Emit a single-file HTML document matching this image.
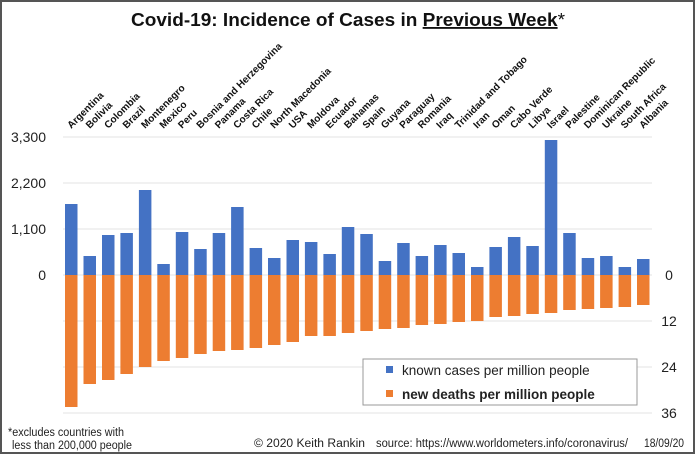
<!DOCTYPE html>
<html><head><meta charset="utf-8"><style>
html,body{margin:0;padding:0;background:#fff}
svg{display:block;font-family:"Liberation Sans",Arial,sans-serif}
</style></head><body>
<svg width="696" height="455" viewBox="0 0 696 455" xmlns="http://www.w3.org/2000/svg">
<rect x="1" y="1" width="693" height="452" fill="#fff" stroke="#555" stroke-width="2"/>
<text x="131" y="26" font-size="18.5" font-weight="bold" fill="#111" textLength="434" lengthAdjust="spacingAndGlyphs">Covid-19: Incidence of Cases in <tspan text-decoration="underline">Previous Week</tspan><tspan font-weight="normal">*</tspan></text>
<g stroke="#e3e3e3" stroke-width="1">
<line x1="63" y1="137" x2="652" y2="137"/><line x1="63" y1="183" x2="652" y2="183"/>
<line x1="63" y1="229" x2="652" y2="229"/><line x1="63" y1="275" x2="652" y2="275"/>
<line x1="63" y1="321" x2="652" y2="321"/><line x1="63" y1="367" x2="652" y2="367"/>
<line x1="63" y1="413" x2="652" y2="413"/>
</g>
<g font-size="14" fill="#222" text-anchor="end">
<text x="46" y="142">3,300</text><text x="46" y="188">2,200</text><text x="46" y="234">1,100</text><text x="46" y="280">0</text>
</g>
<g font-size="14" fill="#222" text-anchor="middle">
<text x="669" y="280">0</text><text x="669" y="326">12</text><text x="669" y="372">24</text><text x="669" y="418">36</text>
</g>
<g fill="#4472C4">
<rect x="65" y="204" width="12.5" height="71"/><rect x="83.5" y="256" width="12.5" height="19"/>
<rect x="102" y="235" width="12.5" height="40"/><rect x="120.4" y="233" width="12.5" height="42"/>
<rect x="138.9" y="190" width="12.5" height="85"/><rect x="157.3" y="264" width="12.5" height="11"/>
<rect x="175.8" y="232" width="12.5" height="43"/><rect x="194.2" y="249" width="12.5" height="26"/>
<rect x="212.7" y="233" width="12.5" height="42"/><rect x="231.1" y="207" width="12.5" height="68"/>
<rect x="249.6" y="248" width="12.5" height="27"/><rect x="268" y="258" width="12.5" height="17"/>
<rect x="286.5" y="240" width="12.5" height="35"/><rect x="304.9" y="242" width="12.5" height="33"/>
<rect x="323.4" y="254" width="12.5" height="21"/><rect x="341.8" y="227" width="12.5" height="48"/>
<rect x="360.3" y="234" width="12.5" height="41"/><rect x="378.7" y="261" width="12.5" height="14"/>
<rect x="397.2" y="243" width="12.5" height="32"/><rect x="415.6" y="256" width="12.5" height="19"/>
<rect x="434.1" y="245" width="12.5" height="30"/><rect x="452.5" y="253" width="12.5" height="22"/>
<rect x="471" y="267" width="12.5" height="8"/><rect x="489.4" y="247" width="12.5" height="28"/>
<rect x="507.9" y="237" width="12.5" height="38"/><rect x="526.3" y="246" width="12.5" height="29"/>
<rect x="544.8" y="140" width="12.5" height="135"/><rect x="563.2" y="233" width="12.5" height="42"/>
<rect x="581.7" y="258" width="12.5" height="17"/><rect x="600.1" y="256" width="12.5" height="19"/>
<rect x="618.6" y="267" width="12.5" height="8"/><rect x="637" y="259" width="12.5" height="16"/>
</g>
<g fill="#ED7D31">
<rect x="65" y="275" width="12.5" height="132"/><rect x="83.5" y="275" width="12.5" height="109"/>
<rect x="102" y="275" width="12.5" height="105"/><rect x="120.4" y="275" width="12.5" height="99"/>
<rect x="138.9" y="275" width="12.5" height="92"/><rect x="157.3" y="275" width="12.5" height="86"/>
<rect x="175.8" y="275" width="12.5" height="83"/><rect x="194.2" y="275" width="12.5" height="79"/>
<rect x="212.7" y="275" width="12.5" height="76"/><rect x="231.1" y="275" width="12.5" height="75"/>
<rect x="249.6" y="275" width="12.5" height="73"/><rect x="268" y="275" width="12.5" height="70"/>
<rect x="286.5" y="275" width="12.5" height="67"/><rect x="304.9" y="275" width="12.5" height="61"/>
<rect x="323.4" y="275" width="12.5" height="61"/><rect x="341.8" y="275" width="12.5" height="58"/>
<rect x="360.3" y="275" width="12.5" height="56"/><rect x="378.7" y="275" width="12.5" height="54"/>
<rect x="397.2" y="275" width="12.5" height="53"/><rect x="415.6" y="275" width="12.5" height="50"/>
<rect x="434.1" y="275" width="12.5" height="49"/><rect x="452.5" y="275" width="12.5" height="47"/>
<rect x="471" y="275" width="12.5" height="46"/><rect x="489.4" y="275" width="12.5" height="42"/>
<rect x="507.9" y="275" width="12.5" height="41"/><rect x="526.3" y="275" width="12.5" height="39"/>
<rect x="544.8" y="275" width="12.5" height="38"/><rect x="563.2" y="275" width="12.5" height="35"/>
<rect x="581.7" y="275" width="12.5" height="34"/><rect x="600.1" y="275" width="12.5" height="33"/>
<rect x="618.6" y="275" width="12.5" height="32"/><rect x="637" y="275" width="12.5" height="30"/>
</g>
<g font-size="10" font-weight="bold" fill="#111">
<text transform="translate(71.3,129) rotate(-45)">Argentina</text>
<text transform="translate(89.7,129) rotate(-45)">Bolivia</text>
<text transform="translate(108.2,129) rotate(-45)">Colombia</text>
<text transform="translate(126.6,129) rotate(-45)">Brazil</text>
<text transform="translate(145.1,129) rotate(-45)">Montenegro</text>
<text transform="translate(163.5,129) rotate(-45)">Mexico</text>
<text transform="translate(182,129) rotate(-45)">Peru</text>
<text transform="translate(200.4,129) rotate(-45)">Bosnia and Herzegovina</text>
<text transform="translate(218.9,129) rotate(-45)">Panama</text>
<text transform="translate(237.3,129) rotate(-45)">Costa Rica</text>
<text transform="translate(255.8,129) rotate(-45)">Chile</text>
<text transform="translate(274.2,129) rotate(-45)">North Macedonia</text>
<text transform="translate(292.7,129) rotate(-45)">USA</text>
<text transform="translate(311.1,129) rotate(-45)">Moldova</text>
<text transform="translate(329.6,129) rotate(-45)">Ecuador</text>
<text transform="translate(348,129) rotate(-45)">Bahamas</text>
<text transform="translate(366.5,129) rotate(-45)">Spain</text>
<text transform="translate(384.9,129) rotate(-45)">Guyana</text>
<text transform="translate(403.4,129) rotate(-45)">Paraguay</text>
<text transform="translate(421.8,129) rotate(-45)">Romania</text>
<text transform="translate(440.3,129) rotate(-45)">Iraq</text>
<text transform="translate(458.7,129) rotate(-45)">Trinidad and Tobago</text>
<text transform="translate(477.2,129) rotate(-45)">Iran</text>
<text transform="translate(495.6,129) rotate(-45)">Oman</text>
<text transform="translate(514.1,129) rotate(-45)">Cabo Verde</text>
<text transform="translate(532.5,129) rotate(-45)">Libya</text>
<text transform="translate(551,129) rotate(-45)">Israel</text>
<text transform="translate(569.4,129) rotate(-45)">Palestine</text>
<text transform="translate(587.9,129) rotate(-45)">Dominican Republic</text>
<text transform="translate(606.3,129) rotate(-45)">Ukraine</text>
<text transform="translate(624.8,129) rotate(-45)">South Africa</text>
<text transform="translate(643.2,129) rotate(-45)">Albania</text>
</g>
<rect x="363" y="359" width="274" height="46" fill="#fff" stroke="#999" stroke-width="1"/>
<rect x="386" y="366" width="7" height="7" fill="#4472C4"/>
<text x="402" y="375" font-size="13.5" fill="#222">known cases per million people</text>
<rect x="386" y="390" width="7" height="7" fill="#ED7D31"/>
<text x="402" y="399" font-size="13.5" font-weight="bold" fill="#222">new deaths per million people</text>
<g font-size="11.5" fill="#222">
<text x="8" y="436" textLength="116" lengthAdjust="spacingAndGlyphs">*excludes countries with</text>
<text x="12" y="449" textLength="120" lengthAdjust="spacingAndGlyphs">less than 200,000 people</text>
<text x="254" y="447" textLength="111" lengthAdjust="spacingAndGlyphs">© 2020  Keith Rankin</text>
<text x="376" y="447" textLength="252" lengthAdjust="spacingAndGlyphs">source: https://www.worldometers.info/coronavirus/</text>
<text x="644" y="447" textLength="40" lengthAdjust="spacingAndGlyphs">18/09/20</text>
</g>
</svg>
</body></html>
